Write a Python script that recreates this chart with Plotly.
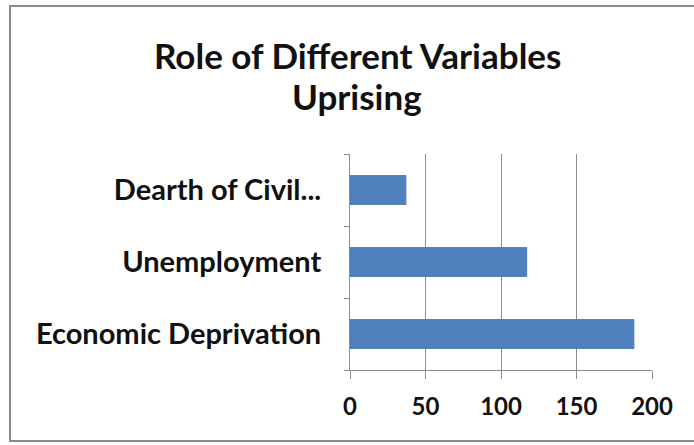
import plotly.graph_objects as go

categories = ["Economic Deprivation", "Unemployment", "Dearth of Civil..."]
values = [188, 117, 37]
x_ticks = [0, 50, 100, 150, 200]
title_lines = ["Role of Different Variables", "Uprising"]

W, H = 694, 445
L, R, T, B = 350, 42, 154, 75
pw, ph = W - L - R, H - T - B

def px_to_paper_x(px):
    return (px - L) / pw

def px_to_paper_y(py):
    return (H - B - py) / ph

fig = go.Figure(go.Bar(
    y=categories, x=values, orientation="h",
    marker=dict(color="#4F81BD", line=dict(color="#4A7EBB", width=1)),
    width=0.4,
))

title_y_px = [55, 96]
annotations = [
    dict(text=f"<b>{t}</b>", xref="paper", yref="paper",
         x=px_to_paper_x(357), y=px_to_paper_y(py),
         xanchor="center", yanchor="middle", showarrow=False,
         font=dict(family="Lato", size=35, color="#111111"))
    for t, py in zip(title_lines, title_y_px)
]

fig.update_layout(
    width=W, height=H,
    margin=dict(l=L, r=R, t=T, b=B),
    paper_bgcolor="white", plot_bgcolor="white",
    showlegend=False,
    font=dict(family="Lato", color="#111111"),
    annotations=annotations,
    xaxis=dict(
        range=[0, 200], tickvals=x_ticks, ticktext=[f"<b>{v}</b>" for v in x_ticks],
        showgrid=True, gridcolor="#8C8C8C", gridwidth=1,
        showline=True, linecolor="#8C8C8C", linewidth=1,
        ticks="outside", ticklen=8, tickcolor="#8C8C8C",
        tickfont=dict(size=24, family="Lato", color="#111111"),
        ticklabelstandoff=7,
        zeroline=False, fixedrange=True,
    ),
    yaxis=dict(
        categoryorder="array", categoryarray=categories,
        tickvals=categories, ticktext=[f"<b>{c}</b>" for c in categories],
        showline=True, linecolor="#8C8C8C", linewidth=1,
        ticks="outside", ticklen=5, tickcolor="#8C8C8C", tickson="boundaries",
        tickfont=dict(size=29, family="Lato", color="#111111"),
        ticklabelstandoff=22,
        showgrid=False, fixedrange=True,
    ),
    shapes=[dict(
        type="rect", xref="paper", yref="paper",
        x0=px_to_paper_x(10), x1=px_to_paper_x(696),
        y0=px_to_paper_y(441), y1=px_to_paper_y(6),
        line=dict(color="#8A8A8A", width=2), fillcolor="rgba(0,0,0,0)", layer="below",
    )],
)

fig.write_html("out.html")
